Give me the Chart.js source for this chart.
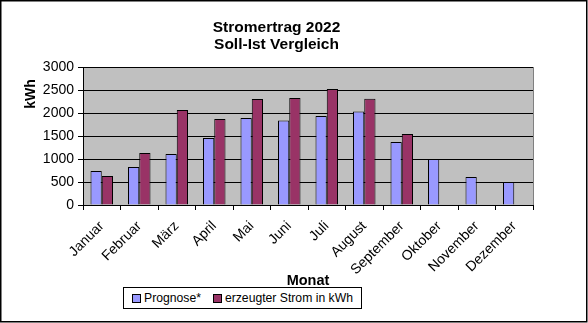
<!DOCTYPE html>
<html>
<head>
<meta charset="utf-8">
<script src="https://cdn.jsdelivr.net/npm/chart.js@4/dist/chart.umd.min.js"></script>
<style>
  html, body { margin: 0; padding: 0; background: #fff; }
  #wrap { position: relative; width: 588px; height: 323px; }
  #legend {
    position: absolute; left: 123px; top: 287px; width: 239px; height: 22px;
    border: 1px solid #000; background: #fff; box-sizing: border-box;
    font: 12.2px "Liberation Sans", Arial, sans-serif; color: #000;
    display: flex; align-items: center; white-space: nowrap;
  }
  #legend .item { display: flex; align-items: center; margin-left: 8px; }
  #legend .item + .item { margin-left: 12px; }
  #legend .box { width: 7px; height: 7px; border: 1px solid #000; margin-right: 3px; }
</style>
</head>
<body>
<div id="wrap">
  <canvas id="chart" width="588" height="323"></canvas>
  <div id="legend"></div>
</div>
<script>
const months = ["Januar", "Februar", "März", "April", "Mai", "Juni", "Juli",
  "August", "September", "Oktober", "November", "Dezember"];
const prognose = [740, 825, 1110, 1455, 1890, 1835, 1935, 2030, 1370, 1000, 610, 500];
const erzeugt = [630, 1130, 2065, 1870, 2305, 2325, 2520, 2310, 1545, 0, 0, 0];
const yTicks = [0, 500, 1000, 1500, 2000, 2500, 3000];
const seriesNames = ["Prognose*", "erzeugter Strom in kWh"];
const titleLines = ["Stromertrag 2022", "Soll-Ist Vergleich"];
const yTitle = "kWh";

const FONT = '"Liberation Sans", Arial, sans-serif';

// grey plot area, outer frame and the y title placed like in Excel
const frame = {
  id: "frame",
  beforeDraw(chart) {
    const { ctx, chartArea: a } = chart;
    ctx.save();
    ctx.fillStyle = "#c0c0c0";
    ctx.fillRect(a.left, a.top, a.right - a.left, a.bottom - a.top);
    ctx.restore();
  },
  beforeDatasetsDraw(chart) {
    const { ctx, chartArea: a } = chart;
    ctx.save();
    ctx.strokeStyle = "#808080";
    ctx.lineWidth = 1;
    ctx.beginPath();
    ctx.moveTo(a.right + 0.5, a.top);
    ctx.lineTo(a.right + 0.5, a.bottom);
    ctx.stroke();
    ctx.restore();
  },
  afterDraw(chart) {
    const { ctx, chartArea: a } = chart;
    const ys = chart.scales.y;
    ctx.save();
    ctx.translate(ys.left + 11, a.top + 27);
    ctx.rotate(-Math.PI / 2);
    ctx.fillStyle = "#000";
    ctx.font = "bold 14px " + FONT;
    ctx.textAlign = "center";
    ctx.textBaseline = "middle";
    ctx.fillText(yTitle, 0, 0);
    ctx.restore();

    ctx.save();
    ctx.strokeStyle = "#000";
    ctx.lineWidth = 1.5;
    ctx.strokeRect(0.75, 0.75, 586, 321);
    ctx.restore();
  }
};

const chart = new Chart(document.getElementById("chart"), {
  type: "bar",
  data: {
    labels: months,
    datasets: [
      { label: seriesNames[0], data: prognose, backgroundColor: "#9999ff",
        borderColor: "#000", borderWidth: 1 },
      { label: seriesNames[1], data: erzeugt, backgroundColor: "#993366",
        borderColor: "#000", borderWidth: 1 }
    ]
  },
  options: {
    responsive: false,
    animation: false,
    layout: { padding: { left: 20, right: 55, top: 0, bottom: 33 } },
    datasets: { bar: { categoryPercentage: 0.6, barPercentage: 1 } },
    plugins: {
      legend: { display: false },
      tooltip: { enabled: false },
      title: {
        display: true,
        text: titleLines,
        color: "#000",
        font: { family: FONT, size: 15.5, weight: "bold", lineHeight: 1.1 },
        padding: { top: 19, bottom: 13.9 }
      }
    },
    scales: {
      x: {
        offset: true,
        afterFit: (s) => { s.height = 85; },
        grid: { offset: true, drawOnChartArea: false, drawTicks: true, tickLength: 5, color: "#000" },
        border: { color: "#000", width: 1 },
        ticks: { color: "#000", font: { family: FONT, size: 14 }, minRotation: 45, maxRotation: 45, padding: 8, autoSkip: false },
        title: { display: true, text: "Monat", color: "#000", font: { family: FONT, size: 14.5, weight: "bold" }, padding: { top: 0, bottom: 0 } }
      },
      y: {
        min: 0,
        max: 3000,
        afterFit: (s) => { s.width = 63; },
        afterBuildTicks: (s) => { s.ticks = yTicks.map(v => ({ value: v })); },
        grid: { color: "#000", tickLength: 5, drawTicks: true },
        border: { color: "#000", width: 1 },
        ticks: { color: "#000", font: { family: FONT, size: 14 }, padding: 4, callback: (v) => String(v) },
        title: { display: false }
      }
    }
  },
  plugins: [frame]
});

// legend box in the Excel style, built from the datasets
const legend = document.getElementById("legend");
chart.data.datasets.forEach(ds => {
  const item = document.createElement("span");
  item.className = "item";
  const box = document.createElement("span");
  box.className = "box";
  box.style.background = ds.backgroundColor;
  const txt = document.createElement("span");
  txt.textContent = ds.label;
  item.appendChild(box);
  item.appendChild(txt);
  legend.appendChild(item);
});
</script>
</body>
</html>
